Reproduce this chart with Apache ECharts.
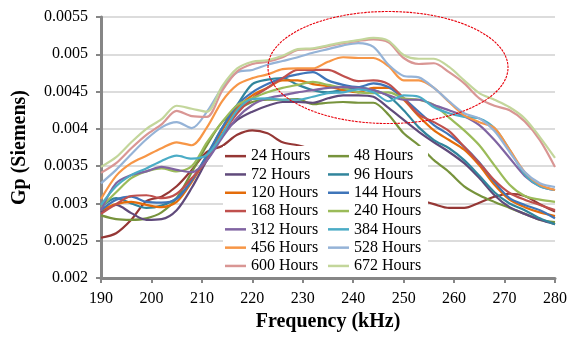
<!DOCTYPE html>
<html>
<head>
<meta charset="utf-8">
<script src="https://cdn.jsdelivr.net/npm/echarts@6/dist/echarts.min.js"></script>
<style>
  html, body { margin: 0; padding: 0; background: #fff; }
  #chart { width: 580px; height: 349px; }
</style>
</head>
<body>
<div id="chart"></div>
<script>
// Frequency sweep points (kHz)
const freq = [190,193,196,199,202,205,208,211,214,217,220,223,226,229,232,235,238,241,244,247,250,253,256,259,262,265,268,271,274,277,280];

// Parallel conductance Gp (Siemens) after each immersion time
const h24  = [0.00254,0.00260,0.00278,0.00303,0.00309,0.00323,0.00345,0.00369,0.00377,0.00392,0.00398,0.00394,0.00382,0.00378,0.00372,0.00361,0.00350,0.00338,0.00327,0.00318,0.00310,0.00305,0.00299,0.00294,0.00294,0.00301,0.00309,0.00313,0.00310,0.00299,0.00289];
const h48  = [0.00284,0.00279,0.00278,0.00280,0.00288,0.00307,0.00342,0.00378,0.00409,0.00425,0.00436,0.00439,0.00439,0.00440,0.00433,0.00435,0.00436,0.00435,0.00435,0.00419,0.00394,0.00378,0.00358,0.00342,0.00323,0.00311,0.00302,0.00294,0.00286,0.00278,0.00275];
const h72  = [0.00288,0.00298,0.00287,0.00278,0.00279,0.00291,0.00321,0.00358,0.00392,0.00412,0.00423,0.00431,0.00436,0.00436,0.00435,0.00441,0.00445,0.00445,0.00443,0.00428,0.00412,0.00396,0.00382,0.00369,0.00354,0.00334,0.00311,0.00295,0.00286,0.00278,0.00272];
const h96  = [0.00295,0.00307,0.00300,0.00294,0.00297,0.00307,0.00331,0.00365,0.00401,0.00432,0.00460,0.00466,0.00468,0.00459,0.00452,0.00449,0.00452,0.00455,0.00452,0.00444,0.00425,0.00402,0.00385,0.00374,0.00358,0.00337,0.00315,0.00300,0.00291,0.00280,0.00272];
const h120 = [0.00291,0.00299,0.00302,0.00298,0.00295,0.00302,0.00329,0.00362,0.00398,0.00428,0.00445,0.00455,0.00465,0.00465,0.00460,0.00457,0.00452,0.00449,0.00455,0.00455,0.00439,0.00417,0.00398,0.00385,0.00372,0.00351,0.00325,0.00305,0.00295,0.00288,0.00283];
const h144 = [0.00291,0.00305,0.00309,0.00302,0.00301,0.00306,0.00331,0.00364,0.00401,0.00432,0.00449,0.00460,0.00468,0.00473,0.00476,0.00465,0.00459,0.00456,0.00461,0.00456,0.00441,0.00423,0.00405,0.00392,0.00376,0.00355,0.00329,0.00307,0.00298,0.00291,0.00280];
const h168 = [0.00286,0.00299,0.00310,0.00311,0.00307,0.00313,0.00334,0.00358,0.00392,0.00421,0.00441,0.00455,0.00468,0.00479,0.00479,0.00479,0.00471,0.00464,0.00465,0.00460,0.00441,0.00419,0.00409,0.00397,0.00376,0.00354,0.00331,0.00314,0.00305,0.00298,0.00291];
const h240 = [0.00295,0.00315,0.00334,0.00343,0.00347,0.00343,0.00350,0.00382,0.00409,0.00432,0.00441,0.00449,0.00455,0.00459,0.00463,0.00459,0.00455,0.00449,0.00448,0.00449,0.00441,0.00439,0.00432,0.00415,0.00398,0.00378,0.00351,0.00325,0.00310,0.00305,0.00302];
const h312 = [0.00291,0.00327,0.00338,0.00343,0.00349,0.00345,0.00342,0.00358,0.00388,0.00415,0.00432,0.00441,0.00445,0.00449,0.00452,0.00455,0.00456,0.00455,0.00452,0.00445,0.00439,0.00439,0.00432,0.00425,0.00417,0.00405,0.00385,0.00361,0.00337,0.00323,0.00318];
const h384 = [0.00298,0.00323,0.00338,0.00347,0.00357,0.00364,0.00360,0.00365,0.00392,0.00425,0.00440,0.00441,0.00439,0.00439,0.00443,0.00448,0.00449,0.00453,0.00449,0.00437,0.00445,0.00443,0.00429,0.00421,0.00416,0.00414,0.00401,0.00372,0.00339,0.00323,0.00318];
const h456 = [0.00306,0.00337,0.00354,0.00364,0.00374,0.00382,0.00378,0.00402,0.00437,0.00459,0.00468,0.00473,0.00480,0.00481,0.00481,0.00490,0.00496,0.00495,0.00495,0.00484,0.00465,0.00465,0.00455,0.00436,0.00418,0.00409,0.00401,0.00372,0.00342,0.00325,0.00318];
const h528 = [0.00327,0.00345,0.00366,0.00386,0.00402,0.00409,0.00401,0.00423,0.00455,0.00476,0.00479,0.00486,0.00491,0.00496,0.00502,0.00507,0.00512,0.00515,0.00510,0.00486,0.00471,0.00469,0.00455,0.00437,0.00421,0.00414,0.00397,0.00369,0.00342,0.00327,0.00322];
const h600 = [0.00341,0.00354,0.00374,0.00392,0.00406,0.00424,0.00417,0.00416,0.00451,0.00477,0.00487,0.00490,0.00496,0.00506,0.00507,0.00511,0.00515,0.00518,0.00520,0.00516,0.00495,0.00487,0.00488,0.00476,0.00461,0.00441,0.00431,0.00425,0.00410,0.00385,0.00349];
const h672 = [0.00349,0.00362,0.00382,0.00400,0.00413,0.00431,0.00427,0.00423,0.00457,0.00481,0.00490,0.00492,0.00498,0.00507,0.00508,0.00512,0.00516,0.00519,0.00522,0.00518,0.00499,0.00494,0.00494,0.00483,0.00465,0.00448,0.00439,0.00429,0.00414,0.00389,0.00361];

const seriesNames = ['24 Hours','48 Hours','72 Hours','96 Hours','120 Hours','144 Hours','168 Hours','240 Hours','312 Hours','384 Hours','456 Hours','528 Hours','600 Hours','672 Hours'];
const seriesData  = [h24,h48,h72,h96,h120,h144,h168,h240,h312,h384,h456,h528,h600,h672];
const seriesColors = ['#953735','#77933C','#604A7B','#31859C','#E46C0A','#3F75B9','#C0504D','#9BBB59','#8064A2','#4BACC6','#F79646','#95B3D7','#D99694','#C3D69B'];

const yTicks = ['0.002','0.0025','0.003','0.0035','0.004','0.0045','0.005','0.0055'];

const serif = '"Liberation Serif", "Times New Roman", serif';
const axisGray = '#868686';

const chart = echarts.init(document.getElementById('chart'), null, { renderer: 'canvas' });

const series = seriesNames.map((name, i) => ({
  name: name,
  type: 'line',
  data: freq.map((f, k) => [f, seriesData[i][k]]),
  showSymbol: false,
  symbol: 'none',
  smooth: 0.3,
  lineStyle: { width: 2.2, color: seriesColors[i] },
  itemStyle: { color: seriesColors[i] },
  z: 2
}));

const legendBase = {
  orient: 'vertical',
  top: 147,
  padding: 0,
  itemGap: 0,
  itemWidth: 21,
  itemHeight: 2.5,
  icon: 'rect',
  textStyle: { fontFamily: serif, fontSize: 16, color: '#000', lineHeight: 18.3 },
  z: 5
};

chart.setOption({
  animation: false,
  backgroundColor: '#fff',
  grid: { left: 101, right: 25, top: 17, bottom: 71 },
  xAxis: {
    type: 'value',
    min: 190, max: 280, interval: 10,
    name: 'Frequency (kHz)',
    nameLocation: 'middle',
    nameGap: 34,
    nameTextStyle: { fontFamily: serif, fontSize: 20, fontWeight: 'bold', color: '#000' },
    axisLine: { show: true, onZero: false, lineStyle: { color: axisGray, width: 3 } },
    axisTick: { show: true, inside: false, length: 5, lineStyle: { color: axisGray, width: 2 } },
    axisLabel: { margin: 13, fontFamily: serif, fontSize: 16, color: '#000' },
    splitLine: { show: false }
  },
  yAxis: {
    type: 'value',
    min: 0.002, max: 0.0055, interval: 0.0005,
    name: 'Gp (Siemens)',
    nameLocation: 'middle',
    nameGap: 71,
    nameRotate: 90,
    nameTextStyle: { fontFamily: serif, fontSize: 20, fontWeight: 'bold', color: '#000' },
    axisLine: { show: true, onZero: false, lineStyle: { color: axisGray, width: 3 } },
    axisTick: { show: true, inside: false, length: 5, lineStyle: { color: axisGray, width: 2 } },
    axisLabel: {
      margin: 13, fontFamily: serif, fontSize: 16, color: '#000',
      formatter: v => yTicks[Math.round((v - 0.002) / 0.0005)]
    },
    splitLine: { show: true, lineStyle: { color: '#D0D0D0', width: 1.5 } }
  },
  legend: [
    Object.assign({}, legendBase, { left: 225, data: ['24 Hours','72 Hours','120 Hours','168 Hours','312 Hours','456 Hours','600 Hours'] }),
    Object.assign({}, legendBase, { left: 328, data: ['48 Hours','96 Hours','144 Hours','240 Hours','384 Hours','528 Hours','672 Hours'] })
  ],
  graphic: [
    {
      // opaque legend panel
      type: 'rect',
      shape: { x: 223, y: 146, width: 205, height: 131 },
      style: { fill: '#fff' },
      z: 3
    },
    {
      // highlight around the high-conductance peak region
      type: 'ellipse',
      shape: { cx: 388, cy: 67.5, rx: 120, ry: 56 },
      style: { fill: 'none', stroke: '#E8000B', lineWidth: 1.1, lineDash: [2.5, 1] },
      z: 10
    }
  ],
  series: series
});
</script>
</body>
</html>
